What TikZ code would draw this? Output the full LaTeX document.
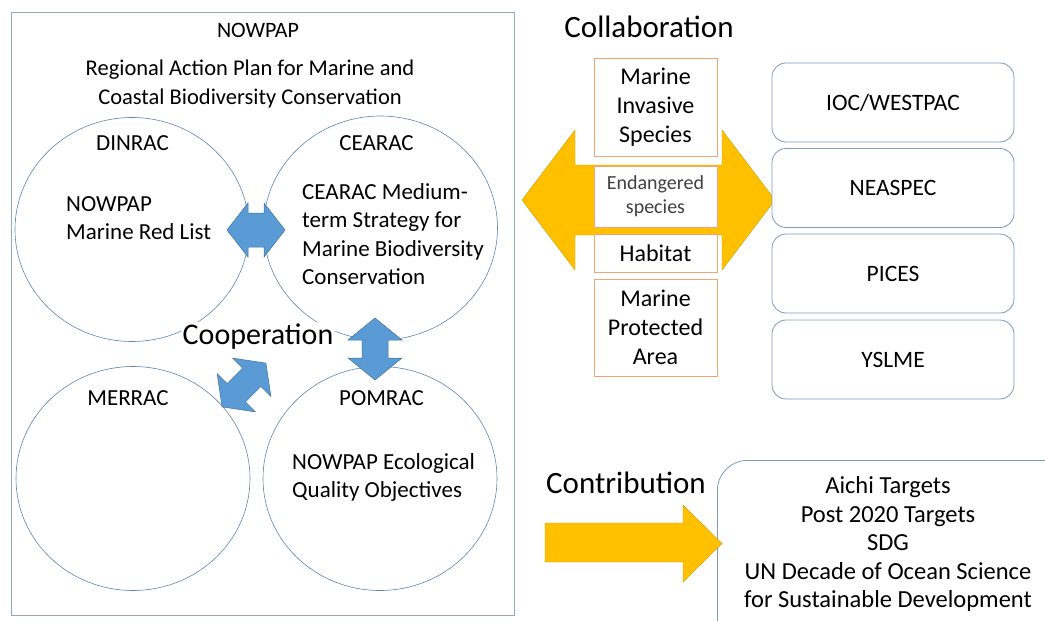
\documentclass[tikz,border=0pt]{standalone}
\usepackage{fontspec}
\setmainfont{Carlito}
\usetikzlibrary{shapes.geometric}

\definecolor{frameblue}{RGB}{143,170,196}
\definecolor{ringblue}{RGB}{96,133,176}
\definecolor{arrowblue}{RGB}{91,155,213}
\definecolor{arrowedge}{RGB}{65,113,156}
\definecolor{gold}{RGB}{255,192,0}
\definecolor{goldedge}{RGB}{205,155,0}
\definecolor{peach}{RGB}{241,166,118}
\definecolor{boxblue}{RGB}{125,155,187}
\definecolor{darktext}{RGB}{64,64,64}

\tikzset{
  pics/dblarrow/.style args={#1/#2/#3/#4}{code={
    \path[pic actions] (-#1,0) -- (-#1+#4,-#2) -- (-#1+#4,-#3) -- (#1-#4,-#3)
      -- (#1-#4,-#2) -- (#1,0) -- (#1-#4,#2) -- (#1-#4,#3) -- (-#1+#4,#3)
      -- (-#1+#4,#2) -- cycle;
  }}
}

\begin{document}
\begin{tikzpicture}[x=1pt,y=-1pt,
  txt/.style={font=\fontsize{23}{28.5}\selectfont, inner sep=0pt},
  headline/.style={font=\fontsize{31}{36}\selectfont, inner sep=2pt},
  rac/.style={ellipse, draw=ringblue, line width=0.6pt, minimum width=234pt, minimum height=224pt, inner sep=0pt},
  bluearrow/.style={fill=arrowblue, draw=arrowedge, line width=0.5pt},
  goldarrow/.style={fill=gold, draw=goldedge, line width=0.4pt},
  topic/.style={draw=peach, fill=white, line width=0.8pt, minimum width=123pt, inner sep=0pt, align=center, font=\fontsize{24}{29}\selectfont},
  partner/.style={draw=boxblue, fill=white, line width=0.8pt, rounded corners=14pt, minimum width=242pt, minimum height=79pt, font=\fontsize{23.5}{28}\selectfont}]
\useasboundingbox (0,0) rectangle (1045,621);
\clip (0,0) rectangle (1045,621);

% NOWPAP frame
\draw[frameblue, line width=0.9pt] (11,12) rectangle (514,615);
\node[txt, font=\fontsize{22}{27}\selectfont] (title) at (258,30.5) {NOWPAP};
\node[txt, align=center, font=\fontsize{22.5}{28.5}\selectfont] (plan) at (250,84)
  {Regional Action Plan for Marine and\\Coastal Biodiversity Conservation};

% activity centres
\node[rac] (dinrac) at (132,229.5) {};
\node[rac] (cearac) at (380.5,228) {};
\node[rac] (merrac) at (133,478.5) {};
\node[rac] (pomrac) at (380,478.5) {};
\node[txt] (dinraclbl) at (132.5,143.5) {DINRAC};
\node[txt] (cearaclbl) at (376.5,143.5) {CEARAC};
\node[txt] (merraclbl) at (128,398) {MERRAC};
\node[txt] (pomraclbl) at (381.5,398) {POMRAC};
\node[txt, anchor=west, align=left] (redlist) at (66,218) {NOWPAP\\Marine Red List};
\node[txt, anchor=west, align=left] (strategy) at (302,234)
  {CEARAC Medium-\\term Strategy for\\Marine Biodiversity\\Conservation};
\node[txt, anchor=west, align=left] (eqo) at (292,477.5)
  {NOWPAP Ecological\\Quality Objectives};

% cooperation arrows
\pic[bluearrow] at (256,230) {dblarrow=29/27/17/21};
\pic[bluearrow, rotate=90] at (375,349) {dblarrow=31/27/13/22};
\pic[bluearrow, rotate=45] at (244,385) {dblarrow=31/27/13/20};
\node[headline, fill=white, font=\fontsize{30}{35}\selectfont] (coop) at (258,337) {Cooperation};

% collaboration
\node[headline] (collab) at (649,26.5) {Collaboration};
\pic[goldarrow] at (648.5,200) {dblarrow=126.5/70/35/53};
\node[topic, minimum height=98pt] (invasive) at (655.5,107) {Marine\\Invasive\\Species};
\node[topic, minimum height=61pt, text=darktext, font=\fontsize{20}{24}\selectfont] (endangered) at (655.5,196.5) {Endangered\\species};
\node[topic, minimum height=38pt] (habitat) at (655.5,253) {Habitat};
\node[topic, minimum height=97pt] (mpa) at (655.5,327.5) {Marine\\Protected\\Area};

\foreach \yy/\name [count=\j from 1] in {102.5/{IOC/WESTPAC}, 188/NEASPEC, 273.5/PICES, 359.5/YSLME}
    \node[partner] (partner\j) at (893,\yy) {\name};

% contribution
\node[headline] (contrib) at (626,483) {Contribution};
\node[draw=boxblue, line width=0.8pt, rounded corners=30pt, anchor=north west,
  minimum width=360pt, minimum height=200pt] (goals) at (717,460) {};
\fill[goldarrow] (545,523) -- (683,523) -- (683,505) -- ([xshift=5pt]goals.west |- 0,543.5)
  -- (683,582) -- (683,562) -- (545,562) -- cycle;
\node[txt, align=center, font=\fontsize{24.5}{28.5}\selectfont] (goaltext) at (888,544)
  {Aichi Targets\\Post 2020 Targets\\SDG\\UN Decade of Ocean Science\\for Sustainable Development};
\end{tikzpicture}
\end{document}
